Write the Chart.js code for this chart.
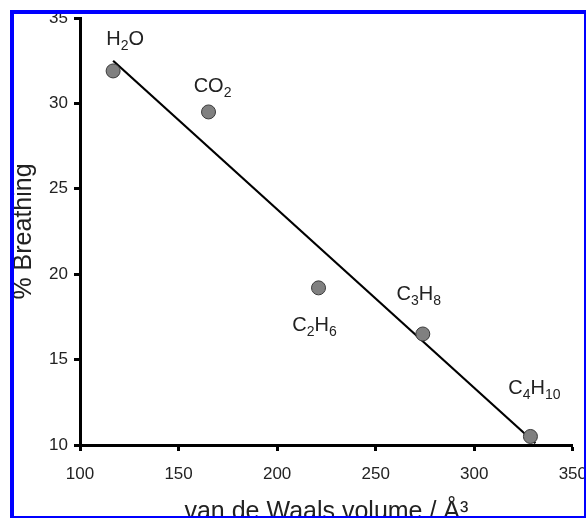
<!DOCTYPE html>
<html>
<head>
<meta charset="utf-8">
<script src="https://cdn.jsdelivr.net/npm/chart.js@4"></script>
<style>
  html, body { margin: 0; padding: 0; background: #fff; }
  #frame {
    position: absolute;
    left: 10px; top: 10px;
    width: 570px; height: 502px;
    border-style: solid;
    border-color: #0000ff;
    border-width: 4px 2px 2px 4px;
    overflow: hidden;
  }
  #plot { position: absolute; left: -14px; top: -14px; }
</style>
</head>
<body>
<div id="frame"><canvas id="plot" width="600" height="540"></canvas></div>
<script>
// gas molecules: van der Waals volume vs % breathing
const gases = ["H2O", "CO2", "C2H6", "C3H8", "C4H10"];
const volumes = [116.8, 165.2, 221, 273.9, 328.5];
const breathing = [31.9, 29.5, 19.2, 16.5, 10.5];

// fitted line, ends
const fitX = [116.8, 331];
const fitY = [32.5, 10.1];

const xTicks = [100, 150, 200, 250, 300, 350];
const yTicks = [10, 15, 20, 25, 30, 35];

// label placement relative to each point (px)
const labelOffsets = [[12, -33], [4, -27], [-4, 36], [-4, -41], [4, -49]];

const FONT = "'Liberation Sans', Arial, sans-serif";

const formulaLabels = {
  id: "formulaLabels",
  afterDatasetsDraw(chart) {
    const ctx = chart.ctx;
    const meta = chart.getDatasetMeta(1);
    ctx.save();
    ctx.fillStyle = "#222";
    ctx.textBaseline = "alphabetic";
    meta.data.forEach((pt, i) => {
      const parts = gases[i].match(/[A-Za-z]+|[0-9]+/g);
      const big = "20px " + FONT, small = "14px " + FONT;
      let w = 0;
      parts.forEach(p => {
        ctx.font = /\d/.test(p) ? small : big;
        w += ctx.measureText(p).width;
      });
      let x = pt.x + labelOffsets[i][0] - w / 2;
      const base = pt.y + labelOffsets[i][1] + 7;
      parts.forEach(p => {
        const sub = /\d/.test(p);
        ctx.font = sub ? small : big;
        ctx.fillText(p, x, sub ? base + 5 : base);
        x += ctx.measureText(p).width;
      });
    });
    ctx.restore();
  }
};

new Chart(document.getElementById("plot"), {
  type: "scatter",
  data: {
    datasets: [
      {
        type: "line",
        data: fitX.map((x, i) => ({ x, y: fitY[i] })),
        borderColor: "#000",
        borderWidth: 2.2,
        pointRadius: 0,
        fill: false,
        order: 2
      },
      {
        data: volumes.map((x, i) => ({ x, y: breathing[i] })),
        backgroundColor: "#808080",
        borderColor: "#3a3a3a",
        borderWidth: 1,
        pointRadius: 7,
        order: 1
      }
    ]
  },
  options: {
    responsive: false,
    animation: false,
    devicePixelRatio: 1,
    layout: { padding: { top: 18, right: 25, bottom: 0, left: 0 } },
    plugins: {
      legend: { display: false },
      tooltip: { enabled: false }
    },
    scales: {
      x: {
        type: "linear",
        min: 100,
        max: 350,
        afterBuildTicks: s => { s.ticks = xTicks.map(v => ({ value: v })); },
        afterFit: s => { s.height = 95; },
        border: { display: true, color: "#000", width: 3 },
        grid: { drawOnChartArea: false, drawTicks: true, tickLength: 6, tickWidth: 3, tickColor: "#000" },
        ticks: { color: "#222", padding: 13, maxRotation: 0, font: { family: FONT, size: 17 } },
        title: {
          display: true,
          text: "van de Waals volume / Å³",
          color: "#222",
          padding: { top: 0, bottom: 13 },
          font: { family: FONT, size: 25 }
        }
      },
      y: {
        type: "linear",
        min: 10,
        max: 35,
        afterBuildTicks: s => { s.ticks = yTicks.map(v => ({ value: v })); },
        afterFit: s => { s.width = 80; },
        border: { display: true, color: "#000", width: 3 },
        grid: { drawOnChartArea: false, drawTicks: true, tickLength: 6, tickWidth: 3, tickColor: "#000" },
        ticks: { color: "#222", padding: 6, font: { family: FONT, size: 17 } },
        title: {
          display: true,
          text: "% Breathing",
          color: "#222",
          padding: { top: 9, bottom: 0 },
          font: { family: FONT, size: 25 }
        }
      }
    }
  },
  plugins: [formulaLabels]
});
</script>
</body>
</html>
